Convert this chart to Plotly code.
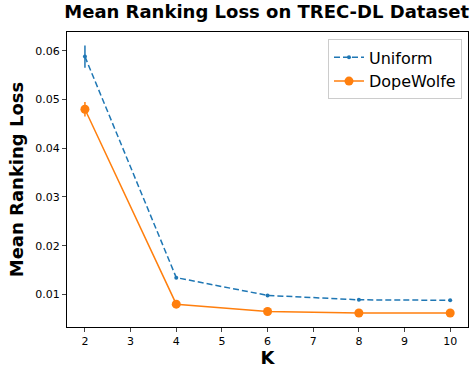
import plotly.graph_objects as go

K = [2, 4, 6, 8, 10]
uniform = [0.0588, 0.01345, 0.0098, 0.0089, 0.0088]
uniform_err = [0.0023, 0.0001, 0.0001, 0.0001, 0.0001]
dope = [0.0480, 0.0080, 0.0065, 0.0062, 0.0062]
dope_err = [0.0015, 0.0001, 0.0001, 0.0001, 0.0001]
xticks = [2, 3, 4, 5, 6, 7, 8, 9, 10]
yticks = [0.01, 0.02, 0.03, 0.04, 0.05, 0.06]

blue = "#1f77b4"
orange = "#ff7f0e"

fig = go.Figure()
fig.add_trace(go.Scatter(
    x=K, y=uniform, name="Uniform", mode="lines+markers",
    line=dict(color=blue, dash="6px,3px", width=1.5),
    marker=dict(color=blue, size=4),
    error_y=dict(type="data", array=uniform_err, color=blue, thickness=1.5, width=0),
))
fig.add_trace(go.Scatter(
    x=K, y=dope, name="DopeWolfe", mode="lines+markers",
    line=dict(color=orange, width=1.5),
    marker=dict(color=orange, size=9),
    error_y=dict(type="data", array=dope_err, color=orange, thickness=1.5, width=0),
))

fig.update_layout(
    width=472, height=368,
    margin=dict(l=67, r=3, t=32, b=37),
    paper_bgcolor="white", plot_bgcolor="white",
    font=dict(family="DejaVu Sans", size=11, color="black"),
    title=dict(text="<b>Mean Ranking Loss on TREC-DL Dataset</b>", x=0.565, xanchor="center",
               y=0.985, yanchor="top", font=dict(size=18)),
    legend=dict(x=0.985, y=0.975, xanchor="right", yanchor="top",
                bordercolor="#cccccc", borderwidth=1, bgcolor="white",
                font=dict(size=16)),
    showlegend=True,
)
fig.update_xaxes(
    range=[1.607, 10.39], tickvals=xticks, ticks="outside", ticklen=4,
    showline=True, linecolor="black", linewidth=1, mirror=True, showgrid=False, zeroline=False,
    title=dict(text="<b>K</b>", font=dict(size=18), standoff=4),
)
fig.update_yaxes(
    range=[0.00332, 0.06385], tickvals=yticks, tickformat=".2f", ticks="outside", ticklen=4,
    showline=True, linecolor="black", linewidth=1, mirror=True, showgrid=False, zeroline=False,
    title=dict(text="<b>Mean Ranking Loss</b>", font=dict(size=18), standoff=6),
)
fig.write_html("out.html", config={"displayModeBar": False},
               post_script="document.body.style.margin='0';document.body.style.overflow='hidden';")
